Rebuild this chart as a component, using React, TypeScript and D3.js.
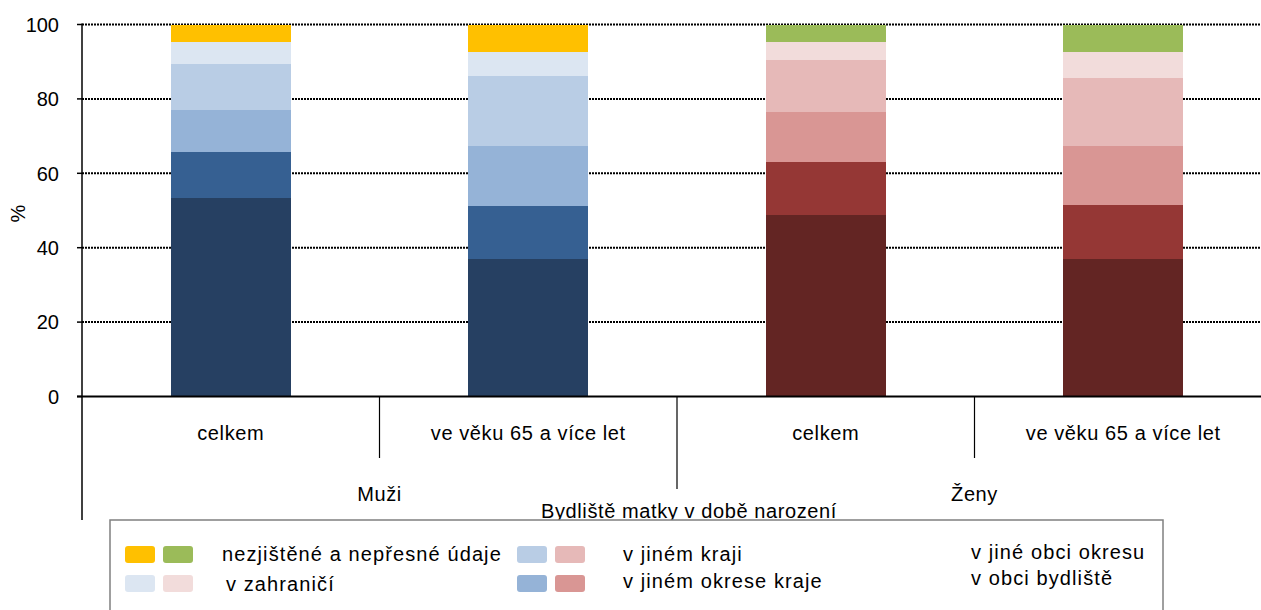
import React from "react";
import * as d3 from "d3";

// ---- data ----
const categories = ["celkem", "ve věku 65 a více let", "celkem", "ve věku 65 a více let"];
const groups = ["Muži", "Ženy"];
const seriesNames = [
  "v obci bydliště",
  "v jiné obci okresu",
  "v jiném okrese  kraje",
  "v jiném kraji",
  "v zahraničí",
  "nezjištěné a nepřesné údaje",
];
const muziCelkem = [53.3, 12.4, 11.3, 12.4, 5.9, 4.7];
const muzi65 = [37.0, 14.1, 16.2, 18.9, 6.5, 7.3];
const zenyCelkem = [48.9, 14.1, 13.5, 14.0, 4.9, 4.6];
const zeny65 = [37.0, 14.6, 15.7, 18.4, 7.0, 7.3];
const yTicks = [0, 20, 40, 60, 80, 100];
const axisTitle = "Bydliště matky v době narození";
const yLabel = "%";

const menColors = ["#264062", "#366092", "#95B3D7", "#B9CDE5", "#DCE6F2", "#FFC000"];
const womenColors = ["#632523", "#953735", "#D99694", "#E6B9B8", "#F2DCDB", "#9BBB59"];

const barValues = [muziCelkem, muzi65, zenyCelkem, zeny65];
const barGroup = [0, 0, 1, 1];

const W = 1261;
const H = 610;
const FONT = "'Liberation Sans', Arial, sans-serif";

export default function App() {
  const left = 82;
  const right = 1272;
  const top = 24.5;
  const bottom = 396.5;

  const x = d3
    .scaleBand<number>()
    .domain(categories.map((_, i) => i))
    .range([left, right])
    .paddingInner(0.5966)
    .paddingOuter(0.5966 / 2);
  const step = x.step();
  const y = d3.scaleLinear().domain([0, 100]).range([bottom, top]);

  const groupScale = d3.scaleBand<number>().domain(groups.map((_, i) => i)).range([left, right]);

  const textStyle: React.CSSProperties = { fontFamily: FONT, fontSize: 20, letterSpacing: 0.6, fill: "#000" };
  const legendStyle: React.CSSProperties = { ...textStyle, letterSpacing: 1.1 };

  // legend items, ordered top-down column-major
  const legendOrder = d3.range(seriesNames.length).reverse();
  const legendSwatchX = [125, 517, null];
  const legendTextX = [222, 623, 971];
  const legendRowY = [546, 575];

  return (
    <svg width={W} height={H} style={{ position: "absolute", left: 0, top: 0, background: "#fff" }}>
      {/* gridlines */}
      {yTicks.filter((t) => t > 0).map((t) => (
        <line
          key={"g" + t}
          x1={left}
          x2={W}
          y1={y(t)}
          y2={y(t)}
          stroke="#000"
          strokeWidth={2}
          strokeDasharray="2,1"
        />
      ))}
      {/* bars */}
      {barValues.map((vals, bi) => {
        const cum = d3.cumsum(vals);
        const colors = barGroup[bi] === 0 ? menColors : womenColors;
        return vals.map((v, si) => {
          const y1 = Math.min(cum[si], 100);
          const y0 = cum[si] - v;
          return (
            <rect
              key={bi + "-" + si}
              x={x(bi)}
              width={x.bandwidth()}
              y={y(y1)}
              height={y(y0) - y(y1)}
              fill={colors[si]}
              shapeRendering="crispEdges"
            />
          );
        });
      })}
      {/* axes */}
      <line x1={left} x2={left} y1={top - 1} y2={520} stroke="#000" strokeWidth={1.5} />
      <line x1={left - 5} x2={W} y1={bottom} y2={bottom} stroke="#000" strokeWidth={2} />
      {yTicks.map((t) => (
        <g key={"t" + t}>
          <line x1={left - 5} x2={left} y1={y(t)} y2={y(t)} stroke="#000" strokeWidth={1.5} />
          <text x={59} y={y(t)} dy="0.36em" textAnchor="end" style={{ ...textStyle, letterSpacing: 0 }}>
            {t}
          </text>
        </g>
      ))}
      <text
        transform={`translate(25,${y(50) + 3}) rotate(-90)`}
        textAnchor="middle"
        style={{ ...textStyle, letterSpacing: 0 }}
      >
        {yLabel}
      </text>
      {/* category dividers */}
      {categories.map((_, i) => {
        if (i === 0) return null;
        const xx = left + step * i;
        const isGroupEdge = i % 2 === 0;
        return (
          <line
            key={"d" + i}
            x1={xx}
            x2={xx}
            y1={bottom}
            y2={isGroupEdge ? 489 : 458}
            stroke="#000"
            strokeWidth={1.2}
          />
        );
      })}
      {/* category labels */}
      {categories.map((c, i) => (
        <text key={"c" + i} x={(x(i) ?? 0) + x.bandwidth() / 2} y={440} textAnchor="middle" style={textStyle}>
          {c}
        </text>
      ))}
      {groups.map((g, i) => (
        <text
          key={"grp" + i}
          x={(groupScale(i) ?? 0) + groupScale.bandwidth() / 2}
          y={501}
          textAnchor="middle"
          style={textStyle}
        >
          {g}
        </text>
      ))}
      <text x={689} y={518} textAnchor="middle" style={textStyle}>
        {axisTitle}
      </text>
      {/* legend */}
      <rect x={110} y={520} width={1053} height={110} fill="#fff" stroke="#808080" strokeWidth={1.5} />
      {legendOrder.map((si, k) => {
        const col = Math.floor(k / 2);
        const row = k % 2;
        const sx = legendSwatchX[col];
        const ry = legendRowY[row];
        return (
          <g key={"l" + si}>
            {sx !== null && (
              <>
                <rect x={sx} y={ry} width={30} height={17} rx={3} fill={menColors[si]} />
                <rect x={sx + 38} y={ry} width={30} height={17} rx={3} fill={womenColors[si]} />
              </>
            )}
            <text
              x={legendTextX[col] + (col === 0 && row === 1 ? 4 : 0)}
              y={ry + 15 + (col === 2 ? -2 - row * 3 : row === 1 ? 1 : 0) - (col === 1 && row === 1 ? 3 : 0)}
              style={legendStyle}
            >
              {seriesNames[si]}
            </text>
          </g>
        );
      })}
    </svg>
  );
}
